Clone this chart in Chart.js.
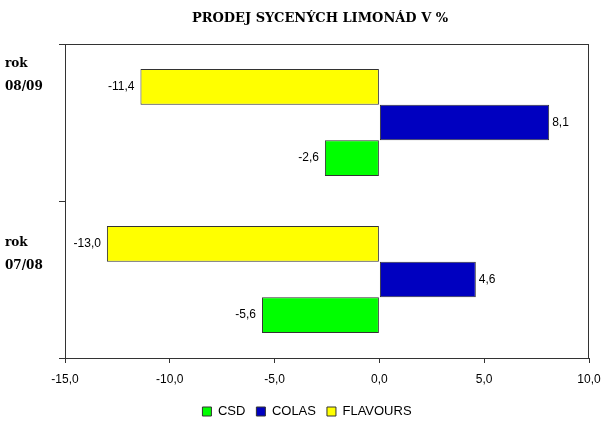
<!DOCTYPE html>
<html>
<head>
<meta charset="utf-8">
<script src="https://cdn.jsdelivr.net/npm/chart.js@4/dist/chart.umd.min.js"></script>
<style>
  html, body { margin: 0; padding: 0; background: #fff; }
  #wrap { width: 614px; height: 441px; }
</style>
</head>
<body>
<div id="wrap"><canvas id="chart" width="614" height="441"></canvas></div>
<script>
// categories (bottom to top, axis is reversed)
const categories = ["07/08", "08/09"];
const csd = [-5.6, -2.6];
const colas = [4.6, 8.1];
const flavours = [-13.0, -11.4];
const xTicks = [-15, -10, -5, 0, 5, 10];
const title = "PRODEJ SYCENÝCH LIMONÁD V %";

const fmt = (v) => v.toFixed(1).replace(".", ",");
const axisColor = "#333";

// title + labels "rok" / year at the left edge
const texts = {
  id: "texts",
  afterDraw(chart) {
    const { ctx, scales } = chart;
    const offs = [[-37, -14], [-59, -36]];
    ctx.save();
    ctx.fillStyle = "#000";
    ctx.textBaseline = "middle";
    ctx.font = "bold 13px 'DejaVu Serif'";
    ctx.textAlign = "center";
    ctx.fillText(title, 320, 19);
    ctx.font = "bold 12px 'DejaVu Serif'";
    ctx.textAlign = "left";
    categories.forEach((c, i) => {
      const y = scales.y.getPixelForValue(i);
      ctx.fillText("rok", 5, y + offs[i][0]);
      ctx.fillText(c, 5, y + offs[i][1]);
    });
    ctx.restore();
  },
};

// frame around plot area
const frame = {
  id: "frame",
  afterDraw(chart) {
    const { ctx, chartArea: a } = chart;
    ctx.save();
    ctx.strokeStyle = axisColor;
    ctx.lineWidth = 1;
    ctx.strokeRect(a.left + 0.5, a.top + 0.5, a.right - a.left - 1, a.bottom - a.top);
    ctx.restore();
  },
};

// value labels next to bar ends
const valueLabels = {
  id: "valueLabels",
  afterDatasetsDraw(chart) {
    const { ctx } = chart;
    ctx.save();
    ctx.font = "12px 'Liberation Sans', Arial";
    ctx.fillStyle = "#000";
    ctx.textBaseline = "middle";
    chart.data.datasets.forEach((ds, di) => {
      chart.getDatasetMeta(di).data.forEach((bar, i) => {
        const v = ds.data[i];
        if (v < 0) {
          ctx.textAlign = "right";
          ctx.fillText(fmt(v), bar.x - 6, bar.y);
        } else {
          ctx.textAlign = "left";
          ctx.fillText(fmt(v), bar.x + 3, bar.y);
        }
      });
    });
    ctx.restore();
  },
};

new Chart(document.getElementById("chart"), {
  type: "bar",
  data: {
    labels: categories,
    // top to bottom inside each category; legend is reversed
    datasets: [
      { label: "FLAVOURS", data: flavours, backgroundColor: "#FFFF00" },
      { label: "COLAS", data: colas, backgroundColor: "#0000C0" },
      { label: "CSD", data: csd, backgroundColor: "#00FF00" },
    ].map((d) => ({ ...d, borderColor: axisColor, borderWidth: 1, borderSkipped: false })),
  },
  options: {
    indexAxis: "y",
    responsive: false,
    animation: false,
    layout: { padding: { top: 44, right: 0, bottom: 13, left: 0 } },
    datasets: { bar: { categoryPercentage: 0.68, barPercentage: 1 } },
    scales: {
      y: {
        reverse: true,
        ticks: { display: false },
        grid: { drawOnChartArea: false, drawTicks: true, tickLength: 6, color: axisColor },
        border: { color: axisColor },
        afterFit: (s) => { s.width = 65; },
      },
      // empty spacer on the right
      yR: {
        type: "linear",
        position: "right",
        ticks: { display: false },
        grid: { display: false },
        border: { display: false },
        afterFit: (s) => { s.width = 25; },
      },
      x: {
        min: -15,
        max: 10,
        afterBuildTicks: (s) => { s.ticks = xTicks.map((v) => ({ value: v })); },
        ticks: {
          callback: (v) => fmt(v),
          color: "#000",
          font: { family: "'Liberation Sans', Arial", size: 12 },
          padding: 9,
        },
        grid: { drawOnChartArea: false, drawTicks: true, tickLength: 5, color: axisColor },
        border: { color: axisColor },
        afterFit: (s) => { s.height = 36; },
      },
    },
    plugins: {
      title: { display: false },
      legend: {
        position: "bottom",
        reverse: true,
        labels: {
          boxWidth: 9,
          boxHeight: 9,
          color: "#000",
          font: { family: "'Liberation Sans', Arial", size: 13 },
          padding: 11,
        },
      },
      tooltip: { enabled: false },
    },
  },
  plugins: [texts, frame, valueLabels],
});
</script>
</body>
</html>
